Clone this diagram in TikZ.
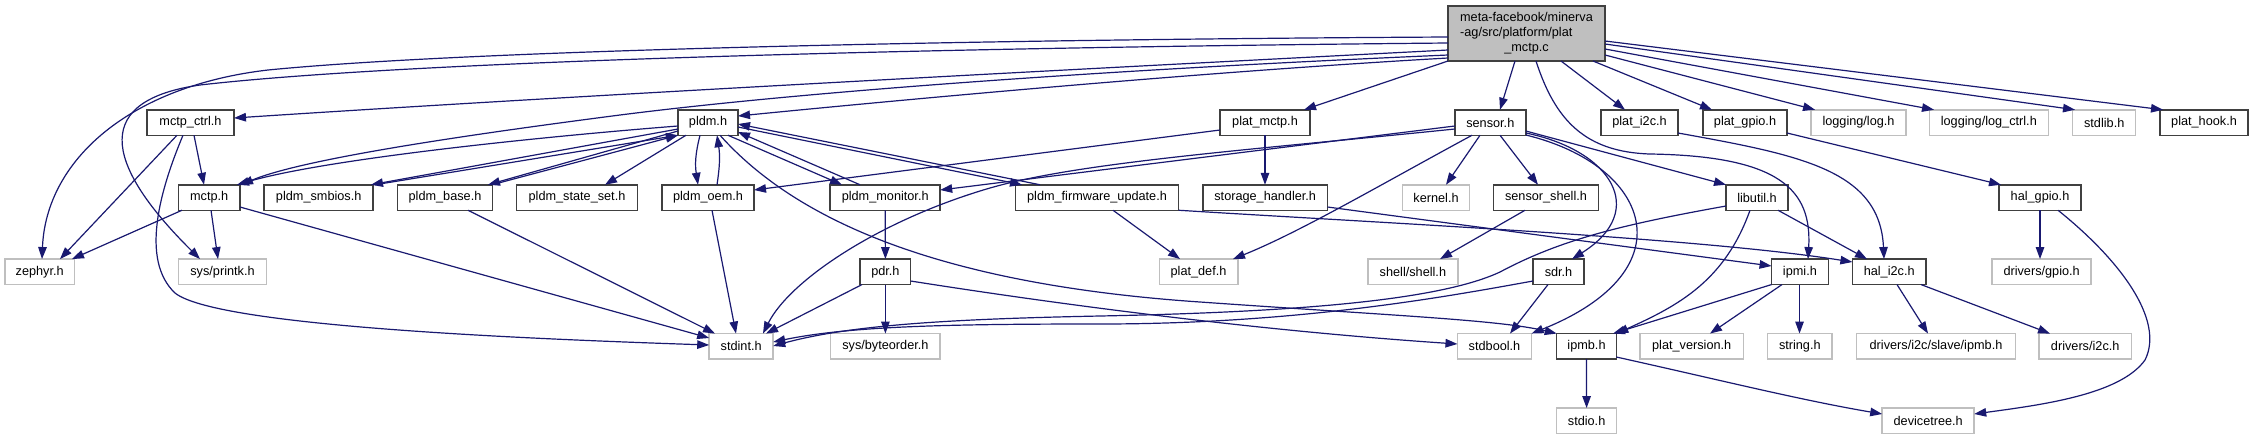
\documentclass[tikz,border=0pt]{standalone}
\usepackage{fontspec}
\setmainfont{Liberation Sans}
\usetikzlibrary{arrows.meta}
\definecolor{edgeblue}{HTML}{191970}
\definecolor{greyline}{HTML}{BFBFBF}
\definecolor{docline}{HTML}{404040}
\definecolor{mainfill}{HTML}{BFBFBF}
\begin{document}
\begin{tikzpicture}[x=1pt,y=-1pt,
  box/.style={rectangle, inner sep=0pt, outer sep=0pt, minimum height=25.5pt, font=\fontsize{12.7}{15}\selectfont, line width=1.5pt, fill=white},
  docbox/.style={box, draw=docline},
  extbox/.style={box, draw=greyline},
  dep/.style={draw=edgeblue, line width=1.2pt, -{Triangle[length=12pt,width=8.5pt]}},
]
\fill[white] (0,0) rectangle (2253,440);
\useasboundingbox (0,0) rectangle (2253,440);

% main
\node[docbox, fill=mainfill, minimum width=157pt, minimum height=55pt] (main) at (1526.5,33.5)
  {\begin{tabular}{@{}l@{}}meta-facebook/minerva\\-ag/src/platform/plat\\\multicolumn{1}{@{}c@{}}{\_mctp.c}\end{tabular}};

% row A
\node[docbox, minimum width=87pt]  (mctpctrl) at (190.5,122.5) {mctp\_ctrl.h};
\node[docbox, minimum width=60pt]  (pldm)     at (708,122.5)   {pldm.h};
\node[docbox, minimum width=90pt]  (platmctp) at (1265,122.5)  {plat\_mctp.h};
\node[docbox, minimum width=71pt]  (sensor)   at (1490.3,122.5){sensor.h};
\node[docbox, minimum width=77pt]  (plati2c)  at (1639.5,122.5){plat\_i2c.h};
\node[docbox, minimum width=84pt]  (platgpio) at (1745,122.5)  {plat\_gpio.h};
\node[extbox, minimum width=95pt]  (log)      at (1858.5,122.5){logging/log.h};
\node[extbox, minimum width=119pt] (logctrl)  at (1988.8,122.5){logging/log\_ctrl.h};
\node[extbox, minimum width=63pt]  (stdlib)   at (2104.2,122.5){stdlib.h};
\node[docbox, minimum width=88pt]  (plathook) at (2204,122.5)  {plat\_hook.h};

% row B
\node[docbox, minimum width=61.5pt] (mctp)        at (209.2,197.5)  {mctp.h};
\node[docbox, minimum width=109pt]  (smbios)      at (318.7,197.5)  {pldm\_smbios.h};
\node[docbox, minimum width=95pt]   (base)        at (445,197.5)    {pldm\_base.h};
\node[docbox, minimum width=120.7pt](stateset)    at (577,197.5)    {pldm\_state\_set.h};
\node[docbox, minimum width=92pt]   (oem)         at (708,197.5)    {pldm\_oem.h};
\node[docbox, minimum width=110pt]  (monitor)     at (885.2,197.5)  {pldm\_monitor.h};
\node[docbox, minimum width=163.4pt](fw)          at (1097,197.5)   {pldm\_firmware\_update.h};
\node[docbox, minimum width=124.5pt](storage)     at (1265.2,197.5) {storage\_handler.h};
\node[extbox, minimum width=67pt]   (kernel)      at (1436,197.5)   {kernel.h};
\node[docbox, minimum width=105pt]  (sensorshell) at (1546,197.5)   {sensor\_shell.h};
\node[docbox, minimum width=62pt]   (libutil)     at (1757,197.5)   {libutil.h};
\node[docbox, minimum width=82pt]   (halgpio)     at (2040,197.5)   {hal\_gpio.h};

% row C
\node[extbox, minimum width=69.8pt] (zephyr)      at (39.7,271.8)   {zephyr.h};
\node[extbox, minimum width=88pt]   (sysprintk)   at (222.5,271.8)  {sys/printk.h};
\node[docbox, minimum width=50.4pt] (pdr)         at (885.4,271.8)  {pdr.h};
\node[extbox, minimum width=78.5pt] (platdef)     at (1198.5,271.8) {plat\_def.h};
\node[extbox, minimum width=90.3pt] (shell)       at (1412.9,271.8) {shell/shell.h};
\node[docbox, minimum width=51pt]   (sdr)         at (1558.5,271.8) {sdr.h};
\node[docbox, minimum width=56.7pt] (ipmi)        at (1799.9,271.8) {ipmi.h};
\node[docbox, minimum width=73.6pt] (hali2c)      at (1889.2,271.8) {hal\_i2c.h};
\node[extbox, minimum width=98.8pt] (driversgpio) at (2041.6,271.8) {drivers/gpio.h};

% row D
\node[extbox, minimum width=64pt]    (stdint)      at (741.2,346.3)  {stdint.h};
\node[extbox, minimum width=109.6pt] (byteorder)   at (885.4,346.3)  {sys/byteorder.h};
\node[extbox, minimum width=74.1pt]  (stdbool)     at (1494.5,346.3) {stdbool.h};
\node[docbox, minimum width=59.6pt]  (ipmb)        at (1586.5,346.3) {ipmb.h};
\node[extbox, minimum width=103.6pt] (platversion) at (1691.7,346.3) {plat\_version.h};
\node[extbox, minimum width=64.7pt]  (string)      at (1799.8,346.3) {string.h};
\node[extbox, minimum width=159pt]   (slaveipmb)   at (1936,346.3)   {drivers/i2c/slave/ipmb.h};
\node[extbox, minimum width=92.5pt]  (driversi2c)  at (2085.2,346.3) {drivers/i2c.h};

% row E
\node[extbox, minimum width=60pt] (stdio)      at (1586.6,420.8) {stdio.h};
\node[extbox, minimum width=92pt] (devicetree) at (1928.2,420.8) {devicetree.h};

% ---- edges from main
\draw[dep] (main.west |- 0,37) .. controls (900,40) and (450,52) .. (268,70) .. controls (130,86) and (46,160) .. (42,0 |- zephyr.north);
\draw[dep] (main.west |- 0,43) .. controls (900,48) and (400,62) .. (200,85) .. controls (95,100) and (100,160) .. (200,0 |- sysprintk.north);
\draw[dep] (main.west |- 0,50) .. controls (1100,68) and (600,94) .. (mctpctrl.east |- 0,118);
\draw[dep] (main.west |- 0,55) .. controls (1100,70) and (800,92) .. (620,115) .. controls (450,137) and (300,160) .. (241,0 |- mctp.north);
\draw[dep] (main.west |- 0,58) .. controls (1200,72) and (900,100) .. (pldm.east |- 0,116);
\draw[dep] (main.south west) -- (1304,0 |- platmctp.north);
\draw[dep] (1515,0 |- main.south) -- (1500,0 |- sensor.north);
\draw[dep] (1536,0 |- main.south) .. controls (1555,120) and (1585,152) .. (1650,154) .. controls (1780,156) and (1812,190) .. (1808,0 |- ipmi.north);
\draw[dep] (1561,0 |- main.south) -- (1625,0 |- plati2c.north);
\draw[dep] (1593,0 |- main.south) -- (1712,0 |- platgpio.north);
\draw[dep] (main.east |- 0,55) -- (1815,0 |- log.north);
\draw[dep] (main.east |- 0,49) -- (1934,0 |- logctrl.north);
\draw[dep] (main.east |- 0,44) -- (2075,0 |- stdlib.north);
\draw[dep] (main.east |- 0,41) -- (2163,0 |- plathook.north);

% ---- mctp_ctrl.h
\draw[dep] (177,0 |- mctpctrl.south) -- (60,0 |- zephyr.north);
\draw[dep] (194,0 |- mctpctrl.south) -- (204,0 |- mctp.north);
\draw[dep] (183,0 |- mctpctrl.south) .. controls (160,190) and (140,260) .. (175,293) .. controls (215,325) and (500,338) .. (stdint.west |- 0,345);

% ---- mctp.h
\draw[dep] (182,0 |- mctp.south) -- (72,0 |- zephyr.north);
\draw[dep] (211,0 |- mctp.south) -- (218,0 |- sysprintk.north);
\draw[dep] (mctp.east |- 0,207) -- (stdint.west |- 0,338);

% ---- pldm.h
\draw[dep] (pldm.west |- 0,126) .. controls (550,136) and (330,158) .. (237,0 |- mctp.north);
\draw[dep] (pldm.west |- 0,129) -- (371,0 |- smbios.north);
\draw[dep] (375,0 |- smbios.north) -- (pldm.south west);
\draw[dep] (pldm.west |- 0,131) -- (488,0 |- base.north);
\draw[dep] (492,0 |- base.north) -- (pldm.south west);
\draw[dep] (686,0 |- pldm.south) -- (605,0 |- stateset.north);
\draw[dep] (700,0 |- pldm.south) .. controls (695,155) and (695,165) .. (698,0 |- oem.north);
\draw[dep] (717,0 |- oem.north) .. controls (720,165) and (720,155) .. (717,0 |- pldm.south);
\draw[dep] (728,0 |- pldm.south) -- (842,0 |- monitor.north);
\draw[dep] (860,0 |- monitor.north) -- (pldm.east |- 0,132);
\draw[dep] (pldm.east |- 0,127) -- (1022,0 |- fw.north);
\draw[dep] (1040,0 |- fw.north) -- (pldm.east |- 0,124);
\draw[dep] (720,0 |- pldm.south) .. controls (800,225) and (950,285) .. (1200,302) .. controls (1400,316) and (1500,320) .. (ipmb.north west);

% ---- row B sources
\draw[dep] (468,0 |- base.south) -- (715,0 |- stdint.north);
\draw[dep] (712,0 |- oem.south) -- (736,0 |- stdint.north);
\draw[dep] (monitor.south) -- (pdr.north);
\draw[dep] (1113,0 |- fw.south) -- (1180,0 |- platdef.north);
\draw[dep] (fw.south east) .. controls (1400,224) and (1700,238) .. (hali2c.west |- 0,262);
\draw[dep] (storage.east |- 0,207) -- (ipmi.west |- 0,266);

% ---- plat_mctp.h
\draw[dep] (platmctp.west |- 0,130) -- (oem.east |- 0,190);
\draw[dep] (platmctp.south) -- (1265,0 |- storage.north);

% ---- sensor.h
\draw[dep] (sensor.west |- 0,126) -- (monitor.east |- 0,190);
\draw[dep] (sensor.west |- 0,129) .. controls (1250,150) and (1080,162) .. (990,188) .. controls (880,220) and (790,280) .. (763,0 |- stdint.north);
\draw[dep] (1472,0 |- sensor.south) .. controls (1380,185) and (1300,232) .. (1233,0 |- platdef.north);
\draw[dep] (1480,0 |- sensor.south) -- (1446,0 |- kernel.north);
\draw[dep] (1500,0 |- sensor.south) -- (1538,0 |- sensorshell.north);
\draw[dep] (sensor.east |- 0,131) -- (libutil.north west);
\draw[dep] (sensor.east |- 0,133) .. controls (1610,150) and (1650,210) .. (1572,0 |- sdr.north);
\draw[dep] (sensor.east |- 0,135) .. controls (1650,165) and (1690,270) .. (stdbool.north east);

\draw[dep] (1525,0 |- sensorshell.south) -- (1440,0 |- shell.north);

% ---- libutil.h
\draw[dep] (libutil.west |- 0,206) .. controls (1620,225) and (1560,240) .. (1500,272) .. controls (1440,300) and (1300,312) .. (1100,316) .. controls (950,319) and (850,325) .. (stdint.east |- 0,346);
\draw[dep] (1750,0 |- libutil.south) .. controls (1725,280) and (1680,305) .. (ipmb.north east);
\draw[dep] (1778,0 |- libutil.south) -- (1867,0 |- hali2c.north);

% ---- gpio / i2c
\draw[dep] (platgpio.east |- 0,133) -- (2001,0 |- halgpio.north);
\draw[dep] (plati2c.east |- 0,133) .. controls (1800,155) and (1880,170) .. (1884,0 |- hali2c.north);
\draw[dep] (halgpio.south) -- (2040,0 |- driversgpio.north);
\draw[dep] (2058,0 |- halgpio.south) .. controls (2120,260) and (2165,320) .. (2145,360) .. controls (2120,395) and (2040,405) .. (devicetree.east |- 0,414);

% ---- row C sources
\draw[dep] (862,0 |- pdr.south) -- (766,0 |- stdint.north);
\draw[dep] (pdr.south) -- (byteorder.north);
\draw[dep] (pdr.east |- 0,281) .. controls (1050,303) and (1250,330) .. (stdbool.west |- 0,344);
\draw[dep] (sdr.west |- 0,281) .. controls (1450,296) and (1300,324) .. (1100,324) .. controls (950,324) and (850,326) .. (stdint.east |- 0,342);
\draw[dep] (1548,0 |- sdr.south) -- (1510,0 |- stdbool.north);
\draw[dep] (ipmi.south west) -- (1613,0 |- ipmb.north);
\draw[dep] (1782,0 |- ipmi.south) -- (1710,0 |- platversion.north);
\draw[dep] (1799.5,0 |- ipmi.south) -- (1799.5,0 |- string.north);
\draw[dep] (1897,0 |- hali2c.south) -- (1928,0 |- slaveipmb.north);
\draw[dep] (1921,0 |- hali2c.south) -- (2050,0 |- driversi2c.north);

% ---- ipmb.h
\draw[dep] (ipmb.south) -- (stdio.north);
\draw[dep] (ipmb.east |- 0,357) .. controls (1720,380) and (1800,400) .. (devicetree.west |- 0,414);
\end{tikzpicture}
\end{document}
